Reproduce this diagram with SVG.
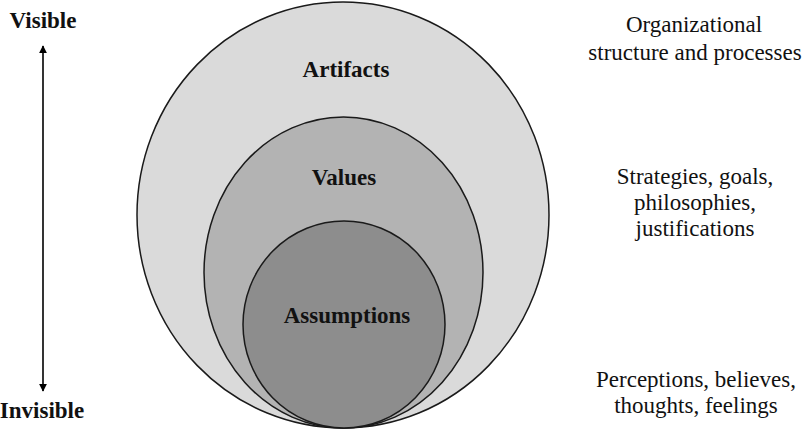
<svg xmlns="http://www.w3.org/2000/svg" width="804" height="430" viewBox="0 0 804 430">
<style>
.lvl{stroke:#1a1a1a;stroke-width:1.5}
.b{font-family:"Liberation Serif","DejaVu Serif",serif;font-weight:700;font-size:23px;fill:#111;text-anchor:middle}
.rg{font-family:"Liberation Serif","DejaVu Serif",serif;font-weight:400;font-size:23px;fill:#111;text-anchor:middle}
</style>
<defs>
<marker id="ah" viewBox="0 0 10 10" refX="9" refY="5" markerWidth="8" markerHeight="8" markerUnits="userSpaceOnUse" orient="auto-start-reverse">
<path d="M0,0 L10,5 L0,10 z" fill="#000"/>
</marker>
</defs>
<rect width="804" height="430" fill="#fff"/>
<g id="artifacts">
<ellipse class="lvl" cx="343" cy="215" rx="206" ry="213" fill="#dadada"/>
<text class="b" x="346" y="77">Artifacts</text>
</g>
<g id="values">
<ellipse class="lvl" cx="343.5" cy="272.5" rx="139.5" ry="155.5" fill="#b3b3b3"/>
<text class="b" x="344" y="185">Values</text>
</g>
<g id="assumptions">
<ellipse class="lvl" cx="344" cy="324.5" rx="101" ry="103.5" fill="#8d8d8d"/>
<text class="b" x="347" y="323">Assumptions</text>
</g>
<g id="visible"><text class="b" x="43" y="28">Visible</text></g>
<g id="invisible"><text class="b" x="42" y="418">Invisible</text></g>
<g id="connectors">
<line x1="43" y1="46" x2="43" y2="391" stroke="#000" stroke-width="1.6" marker-start="url(#ah)" marker-end="url(#ah)"/>
</g>
<g id="desc-artifacts">
<text class="rg" x="694" y="32">Organizational</text>
<text class="rg" x="695" y="60">structure and processes</text>
</g>
<g id="desc-values">
<text class="rg" x="695" y="184">Strategies, goals,</text>
<text class="rg" x="695" y="210">philosophies,</text>
<text class="rg" x="695" y="236">justifications</text>
</g>
<g id="desc-assumptions">
<text class="rg" x="696" y="387">Perceptions, believes,</text>
<text class="rg" x="696" y="413">thoughts, feelings</text>
</g>
</svg>
